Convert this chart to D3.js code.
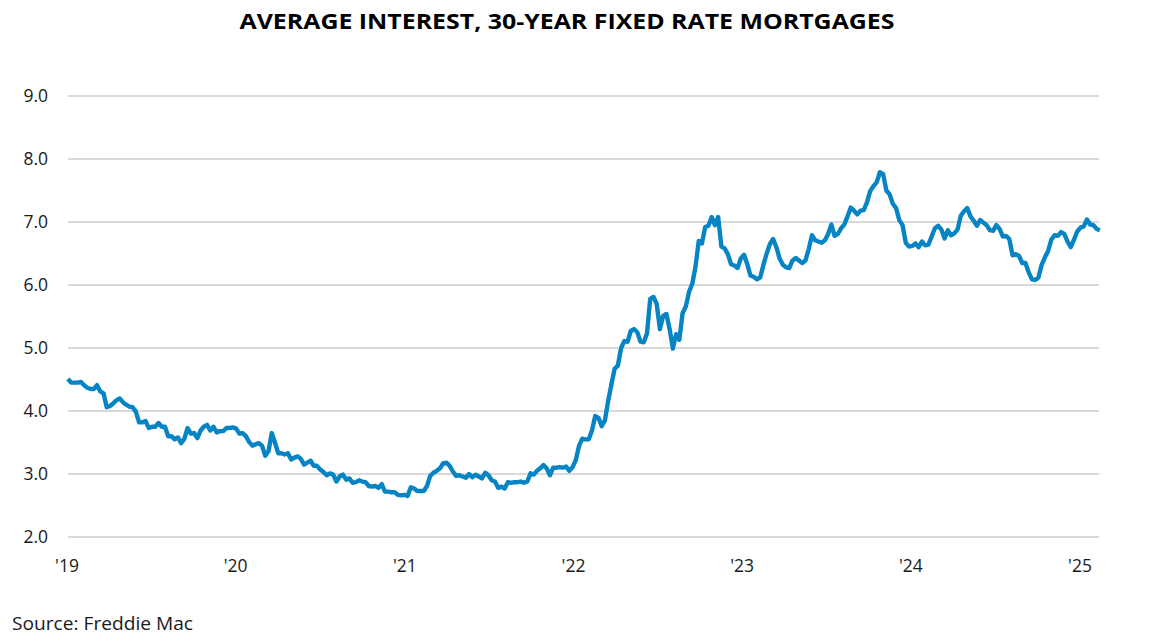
<!DOCTYPE html>
<html>
<head>
<meta charset="utf-8">
<script src="https://cdn.jsdelivr.net/npm/d3@7"></script>
<style>
  html, body { margin: 0; padding: 0; background: #ffffff; }
  svg { display: block; }
</style>
</head>
<body>
<svg id="chart" width="1170" height="644"></svg>
<script>
// ---- Data (Freddie Mac PMMS, 30-year fixed, weekly) ----
const firstWeek = "2019-01-03";
const rates2019 = [4.51,4.45,4.45,4.45,4.46, 4.41,4.37,4.35,4.35, 4.41,4.31,4.28,4.06, 4.08,4.12,4.17,4.20,
  4.14,4.10,4.07,4.06,3.99, 3.82,3.82,3.84,3.73, 3.75,3.75,3.81,3.75, 3.75,3.60,3.60,3.55,3.58,
  3.49,3.56,3.73,3.64, 3.65,3.57,3.69,3.75,3.78, 3.69,3.75,3.66,3.68, 3.68,3.73,3.73,3.74];
const rates2020 = [3.72,3.64,3.65,3.60,3.51, 3.45,3.47,3.49,3.45, 3.29,3.36,3.65,3.50, 3.33,3.33,3.31,3.33,3.23,
  3.26,3.28,3.24,3.15, 3.18,3.21,3.13,3.13, 3.07,3.03,2.98,3.01,2.99, 2.88,2.96,2.99,2.91,
  2.93,2.86,2.87,2.90, 2.88,2.87,2.81,2.80,2.81, 2.78,2.84,2.72,2.72, 2.71,2.71,2.67,2.66,2.67];
const rates2021 = [2.65,2.79,2.77,2.73, 2.73,2.73,2.81,2.97, 3.02,3.05,3.09,3.17, 3.18,3.13,3.04,2.97,2.98,
  2.96,2.94,3.00,2.95, 2.99,2.96,2.93,3.02, 2.98,2.90,2.88,2.78,2.80, 2.77,2.87,2.86,2.87,
  2.87,2.88,2.86,2.88,3.01, 2.99,3.05,3.09,3.14, 3.09,2.98,3.10,3.10, 3.11,3.10,3.12,3.05,3.11];
const rates2022 = [3.22,3.45,3.56,3.55, 3.55,3.69,3.92,3.89, 3.76,3.85,4.16,4.42,4.67, 4.72,5.00,5.11,5.10,
  5.27,5.30,5.25,5.10, 5.09,5.23,5.78,5.81,5.70, 5.30,5.51,5.54,5.30, 4.99,5.22,5.13,5.55,
  5.66,5.89,6.02,6.29,6.70, 6.66,6.92,6.94,7.08, 6.95,7.08,6.61,6.58, 6.49,6.33,6.31,6.27,6.42];
const rates2023 = [6.48,6.33,6.15,6.13, 6.09,6.12,6.32,6.50, 6.65,6.73,6.60,6.42,6.32, 6.28,6.27,6.39,6.43,
  6.39,6.35,6.39,6.57, 6.79,6.71,6.69,6.67,6.71, 6.81,6.96,6.78,6.81, 6.90,6.96,7.09,7.23,7.18,
  7.12,7.18,7.19,7.31, 7.49,7.57,7.63,7.79, 7.76,7.50,7.44,7.29,7.22, 7.03,6.95,6.67,6.61];
const rates2024 = [6.62,6.66,6.60,6.69, 6.63,6.64,6.77,6.90,6.94, 6.88,6.74,6.87,6.79, 6.82,6.88,7.10,7.17,
  7.22,7.09,7.02,6.94,7.03, 6.99,6.95,6.87,6.86, 6.95,6.89,6.77,6.78, 6.73,6.47,6.49,6.46,6.35,
  6.35,6.20,6.09,6.08, 6.12,6.32,6.44,6.54,6.72, 6.79,6.78,6.84,6.81, 6.69,6.60,6.72,6.85];
const rates2025 = [6.91,6.93,7.04,6.96,6.95,6.89,6.87];

const yTicks = [2, 3, 4, 5, 6, 7, 8, 9];
const xTickYears = [2019, 2020, 2021, 2022, 2023, 2024, 2025];
const xTickLabels = ["'19", "'20", "'21", "'22", "'23", "'24", "'25"];
const titleText = "AVERAGE INTEREST, 30-YEAR FIXED RATE MORTGAGES";
const sourceText = "Source: Freddie Mac";

// ---- Build series ----
const allRates = [].concat(rates2019, rates2020, rates2021, rates2022, rates2023, rates2024, rates2025);
const start = d3.timeParse("%Y-%m-%d")(firstWeek);
const series = allRates.map((v, i) => ({ date: d3.timeWeek.offset(start, i), value: v }));

// ---- Layout ----
const svg = d3.select("#chart");
const font = "'Open Sans', 'Liberation Sans', sans-serif";

const x = d3.scaleTime()
  .domain([new Date(2019, 0, 1), new Date(2025, 0, 1)])
  .range([67, 1080]);
const y = d3.scaleLinear().domain([2, 9]).range([537, 96]);

const gridX0 = 68, gridX1 = 1099;

// Gridlines
svg.append("g").selectAll("line")
  .data(yTicks).join("line")
  .attr("x1", gridX0).attr("x2", gridX1)
  .attr("y1", d => y(d)).attr("y2", d => y(d))
  .attr("stroke", "#d9d9d9").attr("stroke-width", 2);

// Y labels
svg.append("g").selectAll("text")
  .data(yTicks).join("text")
  .attr("x", 48).attr("y", d => y(d))
  .attr("dy", "0.35em")
  .attr("text-anchor", "end")
  .attr("font-family", font).attr("font-size", 17.5)
  .attr("fill", "#1a1a1a")
  .text(d => d3.format(".1f")(d));

// X labels
svg.append("g").selectAll("text")
  .data(xTickYears).join("text")
  .attr("x", d => x(new Date(d, 0, 1)))
  .attr("y", 572)
  .attr("text-anchor", "middle")
  .attr("font-family", font).attr("font-size", 17.5)
  .attr("fill", "#1a1a1a")
  .text((d, i) => xTickLabels[i]);

// Line
const line = d3.line().x(d => x(d.date)).y(d => y(d.value)).curve(d3.curveLinear);
svg.append("path")
  .datum(series)
  .attr("d", line)
  .attr("fill", "none")
  .attr("stroke", "#0784c3")
  .attr("stroke-width", 4.4)
  .attr("stroke-linejoin", "round")
  .attr("stroke-linecap", "butt");

// Title
svg.append("text")
  .attr("x", 567).attr("y", 29)
  .attr("text-anchor", "middle")
  .attr("font-family", font).attr("font-weight", "bold").attr("font-size", 22)
  .attr("textLength", 655).attr("lengthAdjust", "spacingAndGlyphs")
  .attr("fill", "#000")
  .text(titleText);

// Source
svg.append("text")
  .attr("x", 12).attr("y", 630)
  .attr("font-family", font).attr("font-size", 18)
  .attr("textLength", 181).attr("lengthAdjust", "spacingAndGlyphs")
  .attr("fill", "#1a1a1a")
  .text(sourceText);
</script>
</body>
</html>
